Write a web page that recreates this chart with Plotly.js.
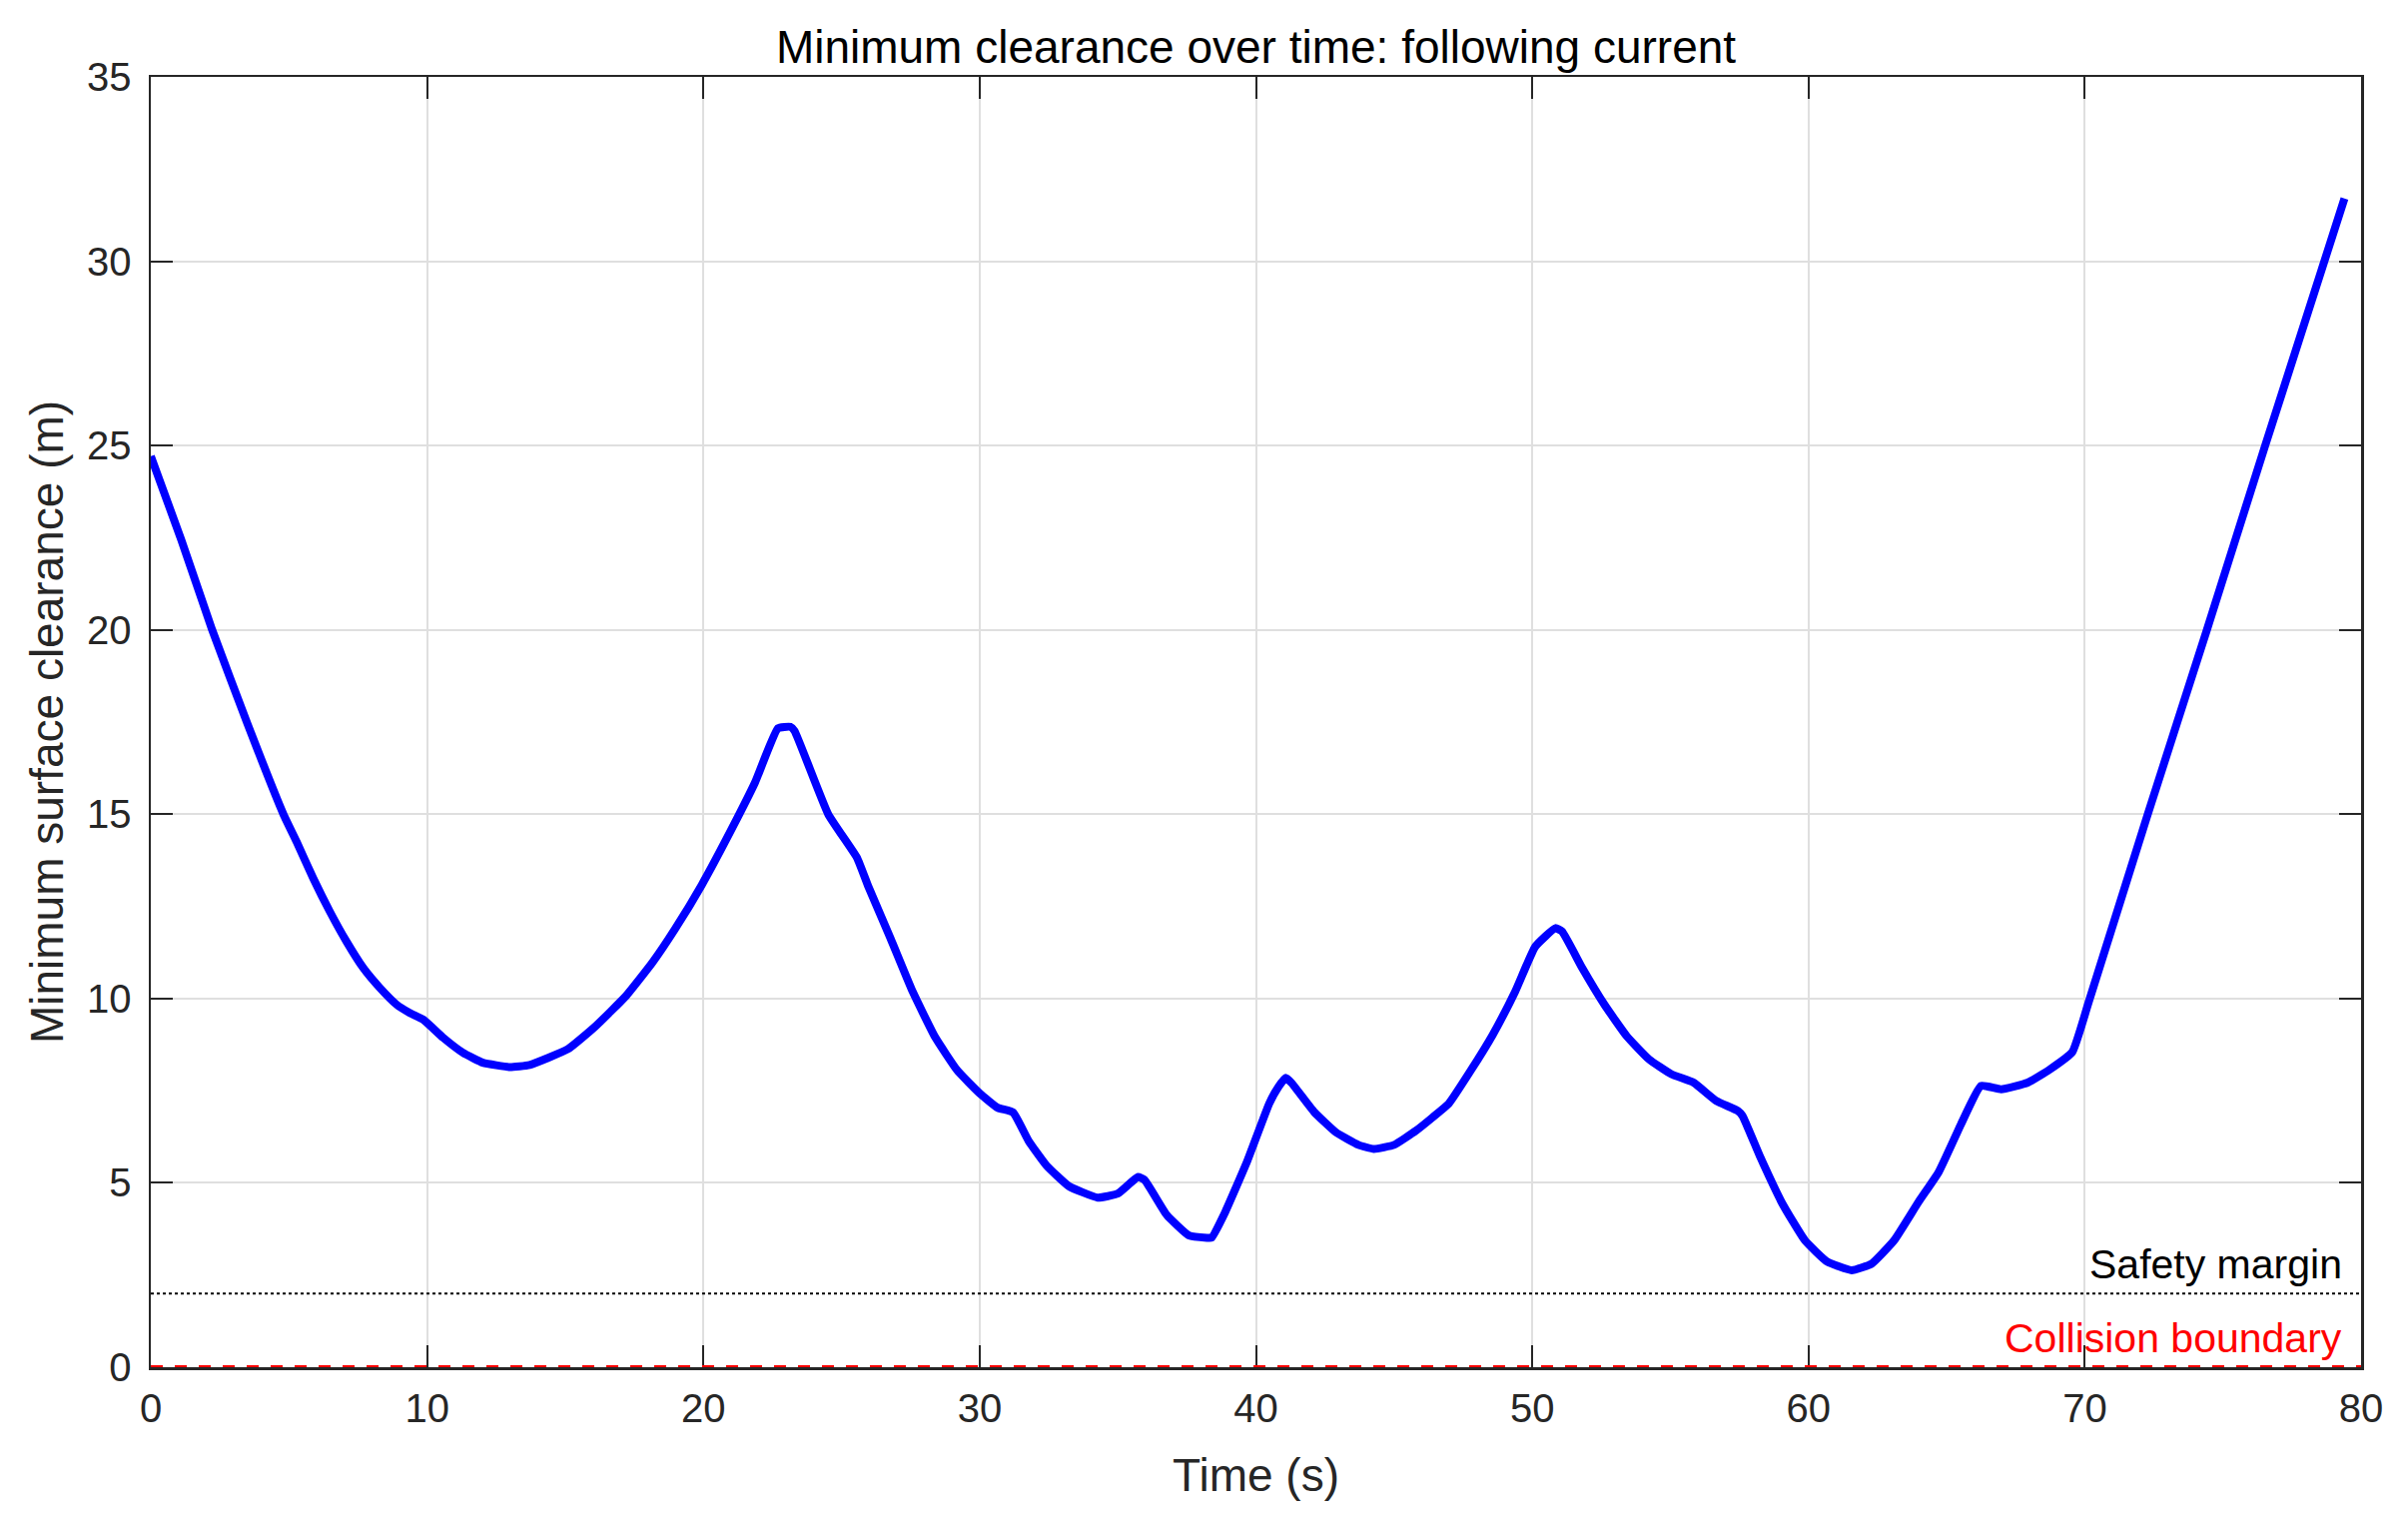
<!DOCTYPE html>
<html>
<head>
<meta charset="utf-8">
<script src="https://cdn.plot.ly/plotly-3.0.1.min.js"></script>
<style>
  html, body { margin: 0; padding: 0; background: #fff; }
  #clearance { width: 2411px; height: 1521px; }
</style>
</head>
<body>
<div id="clearance"></div>
<script>
/* Minimum clearance over time: following current */

// time (s) and minimum surface clearance (m)
const timeS = [
  0, 1.1, 2.22, 3.5, 4.8, 5.28, 5.88, 6.48, 7.08, 7.69, 8.29, 8.89, 9.37, 9.86,
  10.58, 11.3, 12.02, 12.99, 13.71, 15.1, 16.07, 17.2, 18.16, 18.97, 19.94, 21.06,
  21.87, 22.7, 23.15, 23.3, 24.52, 25.56, 25.97, 26.77, 27.58, 28.39, 29.19, 30.0,
  30.65, 31.21, 31.77, 32.42, 33.23, 34.27, 35.0, 35.73, 35.97, 36.77, 37.58, 38.23,
  38.39, 38.87, 39.68, 40.48, 40.81, 41.08, 41.29, 42.1, 42.9, 43.71, 44.27, 45.0,
  45.8, 46.4, 46.97, 47.77, 48.58, 49.39, 50.11, 50.84, 51.08, 51.81, 52.61, 53.42,
  54.23, 55.03, 55.84, 56.65, 57.45, 57.61, 58.26, 59.06, 59.87, 60.68, 61.56, 62.29,
  63.1, 63.98, 64.71, 65.52, 66.24, 66.97, 67.94, 68.74, 69.55, 70.14, 72.25, 74.42,
  76.53, 79.4,
];
const clearanceM = [
  24.71, 22.45, 20.0, 17.45, 15.0, 14.25, 13.26, 12.36, 11.55, 10.83, 10.29, 9.84, 9.61, 9.43,
  8.94, 8.53, 8.26, 8.14, 8.2, 8.63, 9.23, 10.07, 10.98, 11.88, 13.08, 14.65,
  15.86, 17.33, 17.37, 17.26, 15.0, 13.82, 13.04, 11.64, 10.18, 8.95, 8.05, 7.43,
  7.04, 6.91, 6.14, 5.47, 4.91, 4.6, 4.71, 5.16, 5.08, 4.13, 3.57, 3.51,
  3.51, 4.18, 5.58, 7.15, 7.6, 7.85, 7.71, 6.93, 6.37, 6.03, 5.92, 6.03,
  6.42, 6.78, 7.14, 8.04, 9.03, 10.2, 11.41, 11.91, 11.82, 10.83, 9.84, 8.98,
  8.35, 7.95, 7.72, 7.23, 6.95, 6.82, 5.69, 4.43, 3.44, 2.86, 2.63, 2.81,
  3.44, 4.48, 5.29, 6.59, 7.63, 7.54, 7.72, 8.08, 8.55, 9.9, 14.93, 20.0,
  25.0, 31.7,
];

const safetyMargin = 2;      // m
const collisionBoundary = 0; // m
const timeRange = [0, 80];
const clearanceRange = [0, 35];
const xTicks = [0, 10, 20, 30, 40, 50, 60, 70, 80];
const yTicks = [0, 5, 10, 15, 20, 25, 30, 35];

const FONT = 'Liberation Sans, Arial, Helvetica, sans-serif';
const AXIS_GREY = '#262626';

const chart = document.getElementById('clearance');
const labelX = timeS[timeS.length - 1];

const traces = [
  {
    type: 'scatter',
    mode: 'lines',
    x: timeRange,
    y: [safetyMargin, safetyMargin],
    line: { color: '#000000', width: 2, dash: 'dot' },
    hoverinfo: 'skip',
  },
  {
    type: 'scatter',
    mode: 'lines',
    x: timeRange,
    y: [collisionBoundary, collisionBoundary],
    line: { color: '#ff0000', width: 4, dash: 'dash' },
    hoverinfo: 'skip',
  },
  {
    type: 'scatter',
    mode: 'lines',
    x: timeS,
    y: clearanceM,
    line: { color: '#0000ff', width: 8, shape: 'spline', smoothing: 0.4 },
  },
];

const axisCommon = {
  showline: true,
  linecolor: AXIS_GREY,
  linewidth: 2.5,
  mirror: 'ticks',
  ticks: 'inside',
  ticklen: 22,
  tickwidth: 2,
  tickcolor: AXIS_GREY,
  showgrid: true,
  gridcolor: '#dfdfdf',
  gridwidth: 2,
  zeroline: false,
  layer: 'below traces',
  tickfont: { family: FONT, size: 40, color: AXIS_GREY },
};

const layout = {
  width: 2411,
  height: 1521,
  autosize: false,
  showlegend: false,
  paper_bgcolor: '#ffffff',
  plot_bgcolor: '#ffffff',
  margin: { l: 151, r: 47, t: 77, b: 152 },
  title: {
    text: 'Minimum clearance over time: following current',
    font: { family: FONT, size: 46, color: '#000000' },
    x: 0.5,
    xref: 'paper',
    xanchor: 'center',
    y: 1 - 63 / 1521,
    yref: 'container',
    yanchor: 'bottom',
  },
  xaxis: {
    ...axisCommon,
    range: timeRange,
    tickvals: xTicks,
    ticklabelstandoff: 4,
    title: {
      text: 'Time (s)',
      font: { family: FONT, size: 46, color: AXIS_GREY },
      standoff: 31,
    },
  },
  yaxis: {
    ...axisCommon,
    range: clearanceRange,
    tickvals: yTicks,
    ticklabelstandoff: 9,
    title: {
      text: 'Minimum surface clearance (m)',
      font: { family: FONT, size: 46, color: AXIS_GREY },
      standoff: 9,
    },
  },
  annotations: [
    {
      x: labelX,
      y: safetyMargin,
      xref: 'x',
      yref: 'y',
      text: 'Safety margin',
      showarrow: false,
      xanchor: 'right',
      yanchor: 'bottom',
      yshift: 4,
      font: { family: FONT, size: 41, color: '#000000' },
    },
    {
      x: labelX,
      y: collisionBoundary,
      xref: 'x',
      yref: 'y',
      text: 'Collision boundary',
      showarrow: false,
      xanchor: 'right',
      yanchor: 'bottom',
      yshift: 4,
      font: { family: FONT, size: 41, color: '#ff0000' },
    },
  ],
};

Plotly.newPlot(chart, traces, layout, { displayModeBar: false, staticPlot: true });
</script>
</body>
</html>
